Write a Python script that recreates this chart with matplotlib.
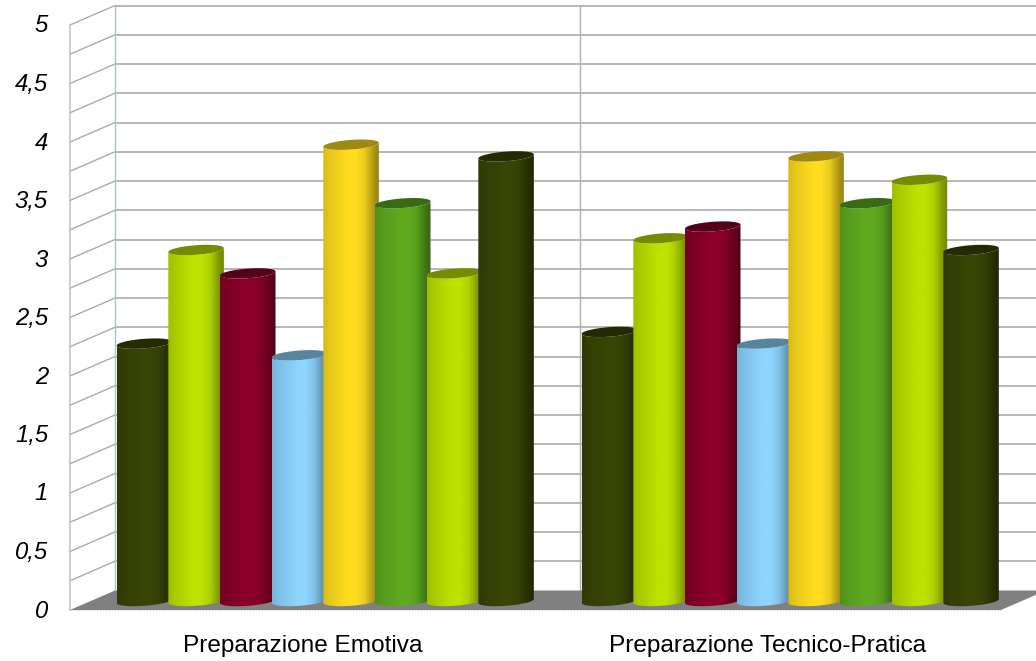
import numpy as np
import matplotlib
matplotlib.use("Agg")
import matplotlib.pyplot as plt
from matplotlib.patches import Polygon
from matplotlib.colors import to_rgb

# Survey scores per category, one value for each of the eight series
categories = ["Preparazione Emotiva", "Preparazione Tecnico-Pratica"]
scores_emotiva = [2.2, 3.0, 2.8, 2.1, 3.9, 3.4, 2.8, 3.8]
scores_tecnica = [2.3, 3.1, 3.2, 2.2, 3.8, 3.4, 3.6, 3.0]
series_colors = ["#384505", "#bce200", "#8a0029", "#8cd5ff",
                 "#ffdd1e", "#5fab20", "#bce200", "#384505"]
value_ticks = [0, 0.5, 1, 1.5, 2, 2.5, 3, 3.5, 4, 4.5, 5]
grid_values = np.arange(0, 5.01, 0.25)

W, H = 1036, 661
PX_X = 465.0    # pixels per category
PX_Y = 117.0    # pixels per value unit
X0_PX, Y0_PX = 116.0, 601.0   # where x=0 / value=0 fall on the canvas

# Oblique projection offsets for the back and front planes, in data units
BACK_DY = 10.5 / PX_Y
FRONT_DY = -9.0 / PX_Y
FRONT_DX = -45.0 / PX_X

plt.rcParams["font.family"] = ["Liberation Sans", "DejaVu Sans"]
fig = plt.figure(figsize=(W / 100, H / 100), dpi=100)
ax = fig.add_axes([0, 0, 1, 1])
ax.axis("off")
xlim = (-X0_PX / PX_X, (W - X0_PX) / PX_X)
ylim = ((Y0_PX - H) / PX_Y, Y0_PX / PX_Y)

GRID = "#aaaaaa"
XMAX_BACK = 2.0
x_back_left = -1.0 / PX_X
x_front_left = x_back_left + FRONT_DX

# Floor
ax.add_patch(Polygon([(x_front_left, FRONT_DY), (x_back_left, BACK_DY),
                      (XMAX_BACK, BACK_DY), (XMAX_BACK + FRONT_DX, FRONT_DY)],
                     closed=True, fc="#808080", ec="none", zorder=1))
ax.plot([x_front_left, XMAX_BACK + FRONT_DX], [FRONT_DY, FRONT_DY],
        color="#c8c8c8", lw=0.8, ls=":", zorder=1.2)

# Back wall and side wall grid
for v in grid_values[1:]:
    ax.plot([x_back_left, XMAX_BACK], [v + BACK_DY, v + BACK_DY],
            color=GRID, lw=1.2, zorder=0.5, solid_capstyle="butt")
for v in grid_values[1:]:
    ax.plot([x_front_left, x_back_left], [v + FRONT_DY, v + BACK_DY],
            color=GRID, lw=1.0, zorder=0.5)
ax.plot([x_front_left, x_front_left], [FRONT_DY, 5 + FRONT_DY],
        color="#c2c2b4", lw=1.1, zorder=0.6)
ax.plot([x_back_left, x_back_left], [BACK_DY, 5 + BACK_DY],
        color="#a6c4c8", lw=1.0, zorder=0.6)
ax.plot([1 - 1 / PX_X] * 2, [BACK_DY, 5 + BACK_DY],
        color="#b0b0b0", lw=1.0, zorder=0.6)

# Horizontal shading across a cylinder, dim on the left and dark on the right
shade_pos = np.array([0.0, 0.12, 0.45, 0.60, 0.75, 0.90, 1.0])
shade_val = np.array([0.84, 0.90, 1.00, 1.00, 0.92, 0.70, 0.58])
t_shade = np.linspace(0, 1, 128)
shade = np.interp(t_shade, shade_pos, shade_val)

half_w = 27.75 / PX_X
ell_h = 4.8 / PX_Y
tilt = 2.0 / PX_Y / half_w   # rise of the elliptical ends towards the right
theta = np.linspace(0, 2 * np.pi, 121)


def draw_cylinder(cx, value, color, z):
    rgb = np.array(to_rgb(color))
    # body outline: lower half of the base ellipse plus lower half of the top
    th_low = np.linspace(np.pi, 2 * np.pi, 60)
    dx = half_w * np.cos(th_low)
    base_y = ell_h * np.sin(th_low) + tilt * dx
    top_y = value + ell_h * np.sin(th_low) + tilt * dx
    outline = np.vstack([np.column_stack([cx + dx, base_y]),
                         np.column_stack([cx + dx, top_y])[::-1]])
    body = Polygon(outline, closed=True, fc="none", ec="none",
                   transform=ax.transData)
    ax.add_patch(body)
    img = (shade[None, :, None] * rgb[None, None, :]).clip(0, 1)
    im = ax.imshow(img, extent=(cx - half_w, cx + half_w, -1, value + 1),
                   aspect="auto", interpolation="bilinear", zorder=z)
    im.set_clip_path(body)
    # top cap
    dx_t = half_w * np.cos(theta)
    cap_y = value + ell_h * np.sin(theta) + tilt * dx_t
    ax.add_patch(Polygon(np.column_stack([cx + dx_t, cap_y]), closed=True,
                         fc=tuple(rgb * 0.62), ec="none", zorder=z + 0.1))


z_order = 2.0
for g, scores in enumerate([scores_emotiva, scores_tecnica]):
    for i, (val, col) in enumerate(zip(scores, series_colors)):
        draw_cylinder(g + (i + 0.55) / 9, val, col, z_order)
        z_order += 0.2

# Value labels sit against the front edge of the side wall
for v in value_ticks:
    label = f"{v:g}".replace(".", ",")
    ax.text(x_front_left - 22 / PX_X, v + FRONT_DY - 1 / PX_Y, label, ha="right",
            va="center", fontsize=17.2, style="italic", color="#000000")

# Category labels, centred under the front edge of each group
for g, name in enumerate(categories):
    ax.text(g + 0.5 + FRONT_DX - 1 / PX_X, (Y0_PX - 646) / PX_Y, name,
            ha="center", va="center", fontsize=17.6, color="#000000")

ax.set_xlim(*xlim)
ax.set_ylim(*ylim)
fig.savefig("out.png", dpi=100)
